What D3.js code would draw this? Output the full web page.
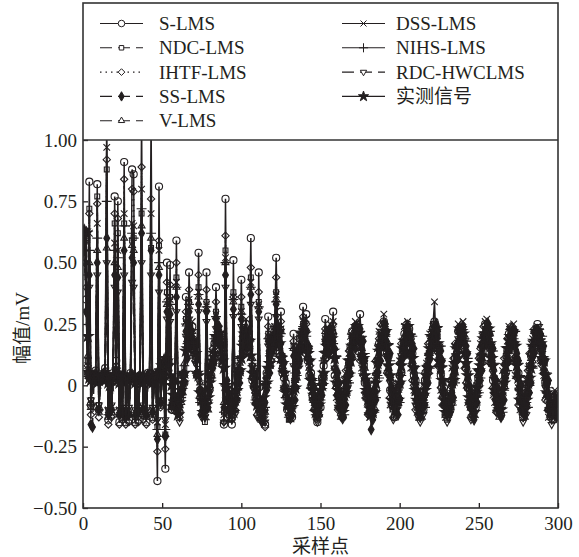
<!DOCTYPE html>
<html>
<head>
<meta charset="utf-8">
<script src="https://cdn.jsdelivr.net/npm/d3@7"></script>
<style>
  body { margin: 0; background: #fff; }
  svg { display: block; }
  text { font-family: "Liberation Serif", "Times New Roman", "Noto Sans CJK SC", serif; fill: #231f20; }
</style>
</head>
<body>
<svg id="chart" width="579" height="557"></svg>
<script>
// Amplitude of each filter output and of the measured signal, in units of 0.01 mV,
// one value per sample point 0..299
const sLms = [
  62,60,35,5,83,-8,2,4,6,82,-10,3,2,4,7,112,-14,3,-12,5,
  77,10,75,-15,4,-13,91,-15,3,-14,5,88,86,-15,3,-14,4,110,-12,3,
  -15,5,2,110,-13,3,5,-39,81,-8,4,6,-34,50,10,49,-10,2,-6,59,
  -8,-11,0,4,1,36,13,46,19,24,15,12,9,54,-2,-5,-12,-10,46,-3,
  5,4,9,17,40,18,21,19,9,-16,76,-4,-10,-7,-16,51,-5,-6,6,6,
  43,13,20,25,16,15,60,2,3,-5,-5,46,-13,-10,-12,-16,5,28,8,17,
  14,22,52,19,13,30,5,3,1,-10,-10,-9,-13,21,-1,8,8,19,19,32,
  21,29,10,4,5,-4,-3,-8,-15,-8,-9,3,8,27,19,15,21,19,30,4,
  1,-4,-4,-8,-13,-2,-3,0,9,16,22,18,24,18,23,29,12,10,1,1,
  -3,-11,-12,-6,-4,-2,9,17,16,18,26,21,13,12,-2,-3,-6,-13,-4,-5,
  4,5,14,21,18,22,23,12,13,4,2,-8,-12,-8,-8,-10,2,4,7,17,
  15,23,26,20,14,15,4,1,-1,-12,-10,-7,-10,2,3,11,11,22,22,20,
  21,19,7,-1,-1,-9,-6,-7,-9,0,0,12,16,16,25,19,22,16,15,2,
  -2,-6,-5,-8,-12,0,1,5,14,21,18,20,22,10,10,5,-6,-7,-13,-7,
  -3,-3,3,12,15,15,22,25,18,14,15,9,1,1,-10,-8,-8,-14,-5,-7
];
const ndcLms = [
  63,63,63,10,72,-6,3,5,4,77,-8,3,4,2,5,88,-11,2,-10,4,
  66,6,62,-12,3,-10,66,-13,4,-11,3,59,60,-13,2,-11,3,70,-10,2,
  -12,4,3,56,-11,2,4,-17,57,-7,3,5,-20,38,8,36,-8,1,-5,44,
  -5,-11,-5,4,7,27,17,34,17,17,18,13,5,40,-7,-6,-7,-15,34,-6,
  3,3,12,19,30,20,22,12,14,-11,55,-6,-10,-7,-12,38,-4,-2,1,11,
  32,18,23,19,16,19,44,8,6,-6,-7,34,-14,-8,-11,-10,-1,21,12,13,
  19,24,38,17,20,23,12,5,-5,-5,-14,-8,-6,16,5,4,13,15,22,25,
  18,22,16,10,-1,2,-7,-13,-10,-4,-6,0,10,20,18,22,19,20,22,11,
  6,-5,-8,-7,-8,-9,0,7,6,9,18,20,19,25,17,19,16,6,8,-2,
  -4,-12,-10,-5,-7,1,10,9,20,20,25,18,12,11,3,-8,-5,-10,-10,-1,
  -1,10,17,16,17,25,18,17,15,2,-1,-4,-13,-7,-10,-4,-4,8,10,12,
  19,25,20,18,20,11,10,2,-8,-8,-14,-6,-4,-3,8,6,15,17,24,18,
  18,14,12,4,-8,-4,-11,-12,-5,3,2,8,17,14,23,25,19,18,9,8,
  3,-7,-9,-7,-7,-7,4,12,11,14,22,22,17,17,4,3,-2,-11,-6,-10,
  -4,-4,5,13,12,18,23,17,22,16,16,6,0,0,-5,-13,-7,-11,-11,-3
];
const ihtfLms = [
  60,58,40,8,70,-12,3,4,5,74,-13,2,3,5,6,92,-16,2,-13,4,
  70,8,68,-16,3,-14,84,-16,2,-15,4,80,79,-16,3,-15,3,89,-14,2,
  -16,4,3,76,-14,2,4,-27,59,-9,3,5,-26,42,9,41,-10,2,-7,50,
  -5,-13,-3,5,4,30,18,39,21,19,19,10,4,45,-3,-12,-7,-12,39,-3,
  -1,8,15,14,34,24,17,16,16,-15,61,-3,-12,-7,-14,36,-10,1,3,5,
  36,20,17,18,21,14,48,8,-1,-3,-12,38,-8,-14,-8,-17,3,24,13,10,
  15,19,44,22,12,26,6,-1,-2,-3,-12,-12,-6,18,2,9,9,16,15,28,
  23,25,11,10,3,-6,-5,-6,-14,-12,-3,1,4,23,11,19,22,16,25,7,
  -1,-10,-9,-5,-8,-2,6,4,14,15,22,19,19,23,19,10,12,4,-3,-3,
  -12,-9,-5,-6,-2,10,11,19,25,19,20,17,5,5,-5,-6,-13,-4,-3,0,
  9,17,15,17,25,19,20,13,2,0,-10,-6,-8,-11,-2,-4,5,8,17,14,
  19,21,24,19,8,10,-1,-8,-8,-6,-11,-7,2,0,11,17,16,22,19,22,
  18,7,1,-1,-7,-13,-7,-2,-3,1,11,15,16,24,18,22,19,9,10,-1,
  -3,-11,-9,-4,-6,2,11,9,19,19,24,17,11,10,3,-8,-5,-10,-11,-3,
  -4,6,13,13,15,23,19,21,21,10,8,5,-6,-3,-10,-8,-14,-5,-5,-5
];
const ssLms = [
  58,55,30,5,45,-16,-17,3,4,50,-10,3,4,3,5,60,-12,3,-10,4,
  45,5,44,-12,4,-11,55,-13,3,-12,4,52,50,-12,2,-11,4,62,-10,3,
  -12,4,2,55,-11,3,4,-22,45,-7,3,5,-21,30,8,29,-8,2,-5,36,
  -11,-9,-2,-2,1,22,11,30,22,17,18,16,5,33,-2,-3,-11,-8,30,-9,
  0,8,7,10,27,18,24,19,11,-9,45,2,-3,-10,-7,31,-8,-6,4,1,
  27,13,20,22,16,22,37,6,5,3,-7,30,-7,-15,-7,-7,-2,18,5,14,
  18,16,33,24,20,17,12,9,-2,-7,-6,-9,-12,12,-6,5,11,10,21,21,
  23,17,16,15,4,0,-1,-12,-8,-11,-4,-4,1,17,14,13,23,20,18,15,
  6,5,1,-8,-13,-6,-8,-1,7,5,12,18,15,24,21,23,15,18,10,2,
  0,-2,-18,-14,-6,-6,5,9,10,19,17,25,22,13,13,-1,-3,-9,-7,-12,
  -6,1,11,15,13,24,21,17,17,15,3,-2,-3,-13,-8,-6,-8,0,1,11,
  17,16,20,25,22,14,14,10,-2,-8,-7,-9,-11,-3,-5,5,11,11,22,20,
  24,17,16,13,0,-4,-5,-14,-7,-7,2,2,6,16,19,17,25,21,15,15,
  3,2,-1,-9,-13,-5,-6,3,12,10,17,22,17,22,13,10,-1,0,-7,-12,
  -8,-2,-3,1,12,13,22,22,18,21,13,16,10,1,2,-9,-8,-11,-8,-13
];
const vLms = [
  63,63,63,12,50,-9,2,4,5,55,-11,3,4,2,4,56,-13,2,-11,4,
  50,6,48,-12,3,-11,60,-13,3,-12,3,57,55,-12,2,-12,3,65,-11,3,
  -13,4,2,60,-12,2,4,-20,48,-8,3,5,-20,33,9,32,-9,2,-6,40,
  -6,-6,-7,-3,9,25,18,32,16,22,13,16,10,36,1,-11,-9,-13,31,-10,
  -1,4,13,17,28,25,19,13,13,-7,50,-5,-5,-14,-10,34,-10,-2,-1,9,
  30,15,19,24,20,13,40,11,0,-7,-6,32,-13,-9,-14,-11,4,20,15,14,
  20,18,35,25,15,22,11,-1,0,-8,-7,-14,-12,15,2,3,15,16,18,24,
  18,23,17,7,0,1,-9,-9,-8,-12,-4,3,3,22,15,21,18,23,22,7,
  4,1,-9,-13,-6,-7,2,5,5,13,12,22,23,20,25,15,15,8,7,-5,
  -8,-10,-8,-7,-9,5,6,10,19,25,20,19,18,5,4,-1,-10,-9,-11,-2,
  5,6,12,20,21,19,22,20,9,2,1,-5,-11,-7,-13,-5,1,1,13,13,
  20,18,23,25,15,12,9,-4,-3,-10,-7,-11,-9,1,5,5,17,18,19,25,
  17,17,13,1,-7,-5,-12,-8,-2,-4,4,11,10,21,20,24,18,21,13,4,
  1,-1,-10,-13,-5,-5,6,10,10,18,16,24,21,12,12,-1,-3,-9,-7,-13,
  -8,-2,7,11,10,22,19,18,21,21,11,7,6,-6,-4,-6,-12,-10,-12,-4
];
const dssLms = [
  60,60,50,8,62,-7,3,5,4,66,-9,2,3,4,5,97,-10,3,-9,4,
  58,7,55,-10,3,-9,70,-11,2,-10,4,66,65,-11,3,-10,4,80,-9,2,
  -11,5,3,70,-10,2,5,-15,55,-6,4,6,-16,36,10,35,-7,2,-4,42,
  -8,-9,0,4,3,26,16,35,22,26,15,12,11,38,0,-3,-10,-9,33,-2,
  5,5,11,19,29,20,23,21,11,-12,52,-2,-8,-5,-14,36,-4,-5,8,8,
  30,15,22,27,18,17,42,4,5,-3,-3,33,-11,-7,-7,-14,6,20,10,19,
  17,24,37,22,15,23,7,5,3,-8,-8,-7,-11,16,1,10,10,21,22,26,
  24,27,12,6,7,-2,-1,-6,-12,-6,-7,5,10,19,21,18,25,20,26,6,
  -5,-8,-7,-7,-10,2,2,5,13,20,17,20,26,17,20,17,7,5,-4,-4,
  -6,-13,-10,-2,2,4,15,22,19,19,29,16,7,5,-8,-7,-8,-11,0,1,
  10,10,18,24,20,26,19,7,7,-2,-3,-11,-13,-7,-5,-5,7,9,12,21,
  18,24,34,16,9,9,-2,-4,-5,-13,-9,-4,-5,7,8,16,15,25,23,18,
  26,13,0,-7,-5,-11,-5,-4,-4,5,5,17,20,19,26,27,18,11,9,-4,
  -7,-9,-7,-6,-8,6,7,10,18,24,19,18,25,4,4,-1,-10,-9,-12,-4,
  2,2,8,17,19,17,23,24,15,10,10,4,-4,-3,-13,-9,-9,-12,-2,-4
];
const nihsLms = [
  61,60,45,6,55,-8,2,4,5,60,-10,3,3,4,6,75,-12,2,-10,5,
  55,7,52,-12,3,-10,65,-12,3,-11,4,62,60,-12,2,-11,4,72,-10,2,
  -12,4,3,62,-11,3,4,-18,50,-7,3,5,-18,34,9,33,-8,2,-5,40,
  -3,-11,-5,4,8,25,17,33,18,17,18,13,5,37,-7,-6,-7,-14,32,-6,
  3,3,12,19,28,20,22,12,14,-11,50,-6,-10,-7,-10,35,-4,-2,1,11,
  29,18,23,19,16,19,40,8,6,-6,-7,32,-13,-7,-10,-9,-1,19,12,13,
  19,24,34,17,20,21,12,5,-5,-5,-13,-7,-6,15,5,4,13,15,22,24,
  18,20,16,10,-1,2,-7,-12,-9,-4,-6,0,10,14,18,22,19,20,17,11,
  12,1,-4,-4,-9,-12,-4,2,1,5,14,17,17,24,18,22,20,11,13,3,
  1,-9,-8,-7,-11,-5,4,3,15,17,24,20,17,17,10,-2,-1,-8,-12,-5,
  -7,4,12,12,14,23,20,21,20,8,5,1,-10,-6,-11,-7,-9,3,5,7,
  15,22,19,19,24,16,16,8,-3,-4,-13,-7,-7,-8,3,1,10,13,21,17,
  20,19,18,11,-2,0,-9,-13,-8,-2,-3,3,12,10,20,24,20,22,14,14,
  9,-2,-6,-5,-9,-11,-2,6,6,10,19,21,19,22,10,9,4,-7,-4,-11,
  -7,-9,0,8,7,14,21,16,23,19,20,11,5,5,-1,-10,-6,-10,-13,-6
];
const rdcHwclms = [
  55,50,30,5,40,-6,2,3,4,45,-8,2,3,3,4,50,-10,2,-8,3,
  40,5,38,-10,2,-9,45,-10,2,-9,3,42,40,-10,2,-9,3,50,-8,2,
  -10,3,2,45,-9,2,3,-14,38,-6,3,4,-14,27,7,26,-9,1,-6,30,
  -7,-15,-4,4,4,20,17,27,21,18,18,9,3,30,-3,-13,-8,-13,26,-4,
  -3,7,14,13,23,23,16,16,15,-15,40,-4,-13,-8,-14,28,-12,0,2,4,
  24,19,16,17,21,14,33,8,-2,-4,-13,27,-10,-15,-7,-15,2,16,13,10,
  15,18,28,21,12,22,6,-1,-2,-4,-13,-14,-7,8,2,9,9,16,15,22,
  22,16,11,10,3,-6,-6,-7,-15,-13,-3,1,4,18,11,19,22,15,20,7,
  5,-9,-9,-13,-14,-9,1,-1,10,11,19,17,18,24,22,14,17,9,2,2,
  -12,-10,-10,-13,-11,4,5,14,22,18,22,22,11,12,1,-2,-14,-9,-10,-9,
  3,12,11,14,23,21,24,18,8,6,-8,-3,-10,-15,-8,-12,0,3,12,10,
  16,20,25,23,13,16,5,-3,-4,-8,-15,-13,-3,-8,6,12,12,19,18,24,
  23,13,8,5,-3,-14,-11,-8,-11,-4,6,10,12,21,17,23,23,14,16,5,
  2,-11,-10,-9,-13,-4,5,4,15,16,23,19,16,16,9,-2,-1,-11,-15,-9,
  -12,1,8,8,11,21,18,22,24,14,13,10,-1,1,-10,-10,-16,-10,-11,-11
];
const measured = [
  63,63,62,20,3,2,3,4,2,1,2,3,4,3,2,3,1,0,2,3,
  4,3,2,1,2,3,4,3,2,2,3,4,3,1,2,3,4,2,1,2,
  3,4,3,2,1,2,3,5,4,6,8,10,11,10,8,4,0,-4,-7,-9,
  -12,-7,-2,1,5,14,15,19,22,17,16,13,5,4,-3,-6,-11,-8,-8,-5,
  1,8,10,13,20,20,21,17,10,7,0,-1,-6,-10,-8,-11,-6,-2,5,6,
  11,16,21,21,17,18,12,5,2,-1,-8,-9,-8,-11,-5,0,1,7,9,16,
  20,19,21,22,17,11,9,5,-3,-8,-8,-10,-9,-2,-1,7,13,14,21,21,
  21,15,13,10,2,-2,-4,-11,-9,-8,-2,0,5,13,16,17,23,19,14,11,
  1,-2,-5,-10,-11,-4,-3,3,10,10,16,20,19,24,21,19,12,11,4,-2,
  -6,-7,-12,-11,-3,1,9,14,16,21,20,22,16,8,4,-6,-8,-10,-6,-6,
  1,8,15,18,18,24,20,14,11,7,-2,-6,-7,-12,-8,-4,-2,4,7,15,
  20,20,22,23,17,10,7,2,-6,-11,-9,-9,-7,1,2,9,15,16,23,22,
  21,13,9,4,-5,-8,-8,-11,-5,-1,6,8,12,19,21,20,23,17,11,8,
  -2,-4,-6,-10,-10,-2,1,8,15,15,20,22,17,16,8,3,-6,-6,-10,-10,
  -6,1,3,7,16,18,22,22,18,17,11,10,4,-3,-4,-11,-10,-11,-7,-8
];

const seriesNames = ["S-LMS", "NDC-LMS", "IHTF-LMS", "SS-LMS", "V-LMS",
                     "DSS-LMS", "NIHS-LMS", "RDC-HWCLMS", "实测信号"];
const seriesValues = [sLms, ndcLms, ihtfLms, ssLms, vLms, dssLms, nihsLms, rdcHwclms, measured];
const xTickValues = [0, 50, 100, 150, 200, 250, 300];
const yTickValues = [-0.5, -0.25, 0, 0.25, 0.5, 0.75, 1.0];
const yTickLabels = ["\u22120.50", "\u22120.25", "0", "0.25", "0.50", "0.75", "1.00"];

// ---- drawing ----
const ink = "#231f20";
const svg = d3.select("#chart");

const frame = { left: 83, right: 558, legendTop: 3, top: 140, bottom: 508 };
const x = d3.scaleLinear().domain([0, 300]).range([frame.left, frame.right]);
const y = d3.scaleLinear().domain([-0.5, 1.0]).range([frame.bottom, frame.top]);
const mV = d => d / 100;

const strokeSym = (t) => t || d3.symbolCross;
const markerStyles = [
  { type: d3.symbolCircle, size: 40, fill: "none", dash: null },
  { type: strokeSym(d3.symbolSquare2), size: 30, fill: "none", dash: "12,6" },
  { type: strokeSym(d3.symbolDiamond2), size: 34, fill: "none", dash: "1.5,4" },
  { type: d3.symbolDiamond, size: 30, fill: ink, dash: "12,6" },
  { type: strokeSym(d3.symbolTriangle2), size: 34, fill: "none", dash: "12,6" },
  { type: strokeSym(d3.symbolTimes), size: 30, fill: "none", dash: null },
  { type: strokeSym(d3.symbolPlus), size: 34, fill: "none", dash: null },
  { type: strokeSym(d3.symbolTriangle2), size: 34, fill: "none", dash: "12,6", flip: true },
  { type: d3.symbolStar, size: 38, fill: ink, dash: null }
];
const legendScale = 0.85;

const series = seriesNames.map((name, k) => ({ name, values: seriesValues[k], style: markerStyles[k] }));

function markerPath(style, scale = 1) {
  return d3.symbol().type(style.type).size(style.size * scale)();
}
function markerTransform(style, px, py) {
  return `translate(${px},${py})` + (style.flip ? " rotate(180)" : "");
}

svg.append("clipPath").attr("id", "plotClip")
  .append("rect")
  .attr("x", frame.left).attr("y", frame.top)
  .attr("width", frame.right - frame.left).attr("height", frame.bottom - frame.top);

const plot = svg.append("g").attr("clip-path", "url(#plotClip)");
const line = d3.line().x((d, i) => x(i)).y(d => y(mV(d)));

// measured signal underneath, then the filters with S-LMS on top
const drawOrder = [8, 7, 6, 5, 4, 3, 2, 1, 0];
drawOrder.forEach(k => {
  const s = series[k];
  const g = plot.append("g");
  g.append("path")
    .attr("d", line(s.values))
    .attr("fill", "none")
    .attr("stroke", ink)
    .attr("stroke-width", 1.5)
    .attr("stroke-dasharray", s.style.dash);
  const p = markerPath(s.style);
  g.selectAll("path.m").data(s.values).join("path")
    .attr("class", "m")
    .attr("d", p)
    .attr("transform", (d, i) => markerTransform(s.style, x(i), y(mV(d))))
    .attr("fill", s.style.fill)
    .attr("stroke", ink)
    .attr("stroke-width", 1.1);
});

// axes with inward ticks
const xAxis = d3.axisBottom(x).tickValues(xTickValues).tickSize(-5).tickPadding(9).tickFormat(d3.format("d"));
const yAxis = d3.axisLeft(y).tickValues(yTickValues).tickSize(-5).tickPadding(6)
  .tickFormat((d, i) => yTickLabels[i]);

const gx = svg.append("g").attr("transform", `translate(0,${frame.bottom})`).call(xAxis);
const gy = svg.append("g").attr("transform", `translate(${frame.left},0)`).call(yAxis);
[gx, gy].forEach(g => {
  g.select(".domain").remove();
  g.selectAll(".tick line").attr("stroke", ink).attr("stroke-width", 1.3);
  g.selectAll(".tick text").attr("fill", ink).style("font-size", "19px")
    .style("font-family", '"Liberation Serif", "Times New Roman", serif');
});
gx.selectAll(".tick text").attr("dy", "0.71em");

// outer frame (legend sits in the upper part of the same box)
svg.append("rect")
  .attr("x", frame.left).attr("y", frame.legendTop)
  .attr("width", frame.right - frame.left).attr("height", frame.bottom - frame.legendTop)
  .attr("fill", "none").attr("stroke", "#333").attr("stroke-width", 1.6);
svg.append("line")
  .attr("x1", frame.left).attr("x2", frame.right)
  .attr("y1", frame.top).attr("y2", frame.top)
  .attr("stroke", "#333").attr("stroke-width", 1.6);

// legend
const legendCols = [{ x0: 100, x1: 143, tx: 159 }, { x0: 342, x1: 385, tx: 396 }];
series.forEach((s, k) => {
  const col = legendCols[k < 5 ? 0 : 1];
  const row = k < 5 ? k : k - 5;
  const ly = 23.5 + row * 24.3;
  const g = svg.append("g");
  g.append("line")
    .attr("x1", col.x0).attr("x2", col.x1).attr("y1", ly).attr("y2", ly)
    .attr("stroke", ink).attr("stroke-width", 1.1)
    .attr("stroke-dasharray", s.style.dash);
  g.append("path")
    .attr("d", markerPath(s.style, legendScale))
    .attr("transform", markerTransform(s.style, (col.x0 + col.x1) / 2, ly))
    .attr("fill", s.style.fill === "none" ? "#fff" : s.style.fill)
    .attr("stroke", ink).attr("stroke-width", 1);
  g.append("text")
    .attr("x", col.tx).attr("y", ly + 6.5)
    .style("font-size", "19px")
    .text(s.name);
});

// axis titles
svg.append("text")
  .attr("x", (frame.left + frame.right) / 2).attr("y", 553)
  .attr("text-anchor", "middle").style("font-size", "19px")
  .text("采样点");
svg.append("text")
  .attr("transform", `translate(29,328) rotate(-90)`)
  .attr("text-anchor", "middle").style("font-size", "19px")
  .text("幅值/mV");
</script>
</body>
</html>
